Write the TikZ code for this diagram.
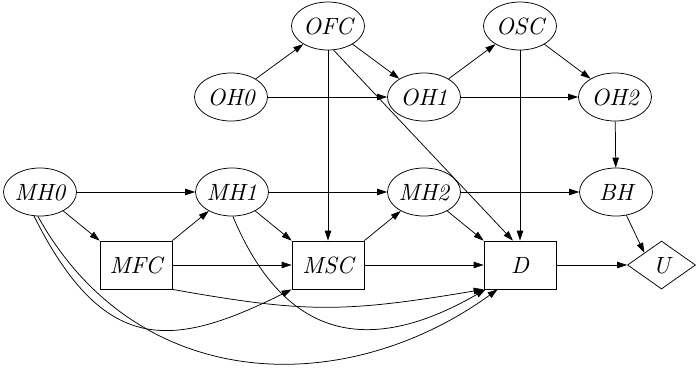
\documentclass[tikz,border=0pt]{standalone}
\usetikzlibrary{shapes.geometric,arrows.meta}
% 10pt-design text italic, scaled up for the node labels
\font\labfont=cmti10 at 23.5pt
\begin{document}
\begin{tikzpicture}[x=1pt,y=-1pt,line width=0.75pt,
  every node/.style={font=\labfont, inner sep=0pt},
  chance/.style={ellipse, draw, minimum width=73pt, minimum height=48pt},
  decision/.style={rectangle, draw, minimum width=72pt, minimum height=48pt},
  utility/.style={diamond, draw, minimum width=68pt, minimum height=48pt},
  link/.style={-{Triangle[length=10pt,width=6.5pt]}},
]
\useasboundingbox (0,0) rectangle (696,368);

% observation layer
\node[chance] (OFC) at (328,26) {OFC};
\node[chance] (OSC) at (520,26) {OSC};
\node[chance] (OH0) at (231,97) {OH0};
\node[chance] (OH1) at (424,97) {OH1};
\node[chance] (OH2) at (615,97) {OH2};

% hidden state layer
\node[chance] (MH0) at (40,192) {MH0};
\node[chance] (MH1) at (232,192) {MH1};
\node[chance] (MH2) at (424,192) {MH2};
\node[chance] (BH)  at (616,192) {BH};

% decisions and utility
\node[decision] (MFC) at (136,265) {MFC};
\node[decision] (MSC) at (328,265) {MSC};
\node[decision] (D)   at (520,265) {D};
\node[utility]  (U)   at (661.5,265) {U};

% observation arcs
\draw[link] (OH0) -- (OFC);
\draw[link] (OH0) -- (OH1);
\draw[link] (OFC) -- (OH1);
\draw[link] (OFC) -- (MSC);
\draw[link] (OFC.-77) -- ([xshift=-7pt]D.north);
\draw[link] (OH1) -- (OSC);
\draw[link] (OH1) -- (OH2);
\draw[link] (OSC) -- (OH2);
\draw[link] (OSC) -- (D);
\draw[link] (OH2) -- (BH);

% state arcs
\draw[link] (MH0) -- (MH1);
\draw[link] (MH0) -- (MFC.north west);
\draw[link] (MH1) -- (MH2);
\draw[link] (MH1) -- (MSC.north west);
\draw[link] (MH2) -- (BH);
\draw[link] (MH2) -- (D.north west);
\draw[link] (MFC.north east) -- (MH1);
\draw[link] (MSC.north east) -- (MH2);

% decision arcs
\draw[link] (MFC) -- (MSC);
\draw[link] (MSC) -- (D);
\draw[link] (D) -- (U);
\draw[link] (BH.-66) -- (U.north west);

% long-range informational arcs
\draw[link] (MFC.south east) .. controls (305,313) and (343,313) .. (D.south west);
\draw[link] (MH0.-104) .. controls (104,356) and (172,349) .. (MSC.south west);
\draw[link] (MH1.-88) .. controls (283,336) and (365,359) .. ([xshift=2pt]D.south west);
\draw[link] (MH0.-95) .. controls (138,396) and (346,399) .. ([xshift=14pt]D.south west);
\end{tikzpicture}
\end{document}
